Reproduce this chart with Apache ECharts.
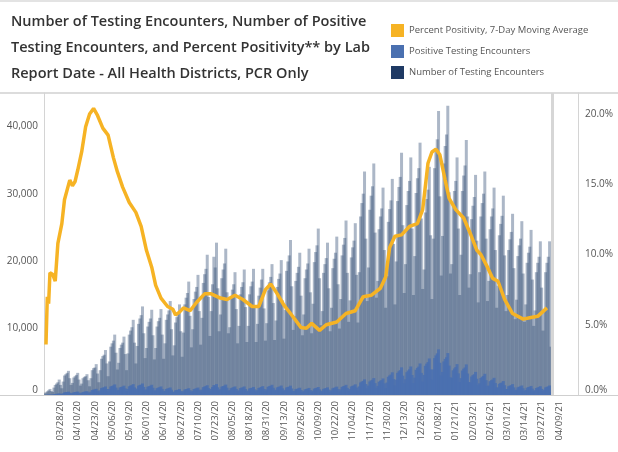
<!DOCTYPE html>
<html>
<head>
<meta charset="utf-8">
<script src="https://cdn.jsdelivr.net/npm/echarts@6/dist/echarts.min.js"></script>
<style>
  html, body { margin: 0; padding: 0; background: #fff; }
  #chart { width: 618px; height: 452px; }
</style>
</head>
<body>
<div id="chart"></div>
<script>
// Daily axis: 03/16/20 .. 04/23/21 (labels every 13 days from 03/28/20)
const startDate = Date.UTC(2020, 2, 16);
const dayCount = 404;
const dates = [];
for (let i = 0; i < dayCount; i++) {
  const d = new Date(startDate + i * 86400000);
  const mm = String(d.getUTCMonth() + 1).padStart(2, '0');
  const dd = String(d.getUTCDate()).padStart(2, '0');
  const yy = String(d.getUTCFullYear()).slice(2);
  dates.push(`${mm}/${dd}/${yy}`);
}

// Number of testing encounters, one row per week (Mon..Sun) from 03/16/20
const testEncounters = [
  250, 400, 550, 700, 900, 600, 450,
  1100, 1500, 1700, 1900, 2300, 1500, 1000,
  2000, 2900, 3100, 3300, 3600, 2500, 1500,
  1800, 2600, 2800, 3000, 3300, 2300, 1400,
  1700, 2500, 2700, 2800, 3100, 2200, 1300,
  2500, 3700, 4000, 4100, 4600, 3200, 1900,
  3700, 5400, 5800, 6000, 6700, 4700, 2800,
  5000, 7200, 7700, 8100, 9000, 6300, 3800,
  4800, 7000, 7500, 7800, 8700, 6100, 3700,
  6200, 9000, 9600, 10100, 11200, 7800, 4700,
  7300, 10600, 11400, 11900, 13200, 9200, 5500,
  7000, 10200, 10900, 11400, 12700, 8900, 5300,
  7000, 10200, 11000, 11500, 12800, 9000, 5400,
  7700, 11200, 12000, 12600, 14000, 9800, 5900,
  7400, 10800, 11600, 12200, 13500, 9500, 5700,
  9300, 13500, 14500, 15200, 16900, 11800, 7100,
  9800, 14300, 15400, 16100, 17900, 12500, 7500,
  11500, 16700, 18000, 18800, 20900, 14600, 8800,
  12500, 16500, 20600, 19000, 22700, 15900, 9500,
  12000, 17400, 18700, 19600, 21800, 15300, 9200,
  10100, 14600, 15700, 16500, 18300, 12800, 7700,
  10300, 15000, 16100, 16800, 18700, 13100, 7900,
  10300, 15000, 16200, 16900, 18800, 13200, 7900,
  10600, 14800, 16000, 17200, 18800, 12900, 8100,
  10700, 15600, 16800, 17600, 19500, 13700, 8200,
  11100, 16100, 17300, 18100, 20100, 14100, 8400,
  12700, 18500, 19900, 20800, 23100, 16200, 9700,
  11700, 17000, 18200, 19100, 21200, 14800, 8900,
  12000, 17400, 18700, 19600, 21800, 15300, 9200,
  13600, 19800, 21300, 22300, 24800, 17400, 10400,
  12500, 18200, 19500, 20400, 22700, 15900, 9500,
  13000, 18900, 20300, 21200, 23600, 16500, 9900,
  14300, 20800, 22400, 23400, 26000, 18200, 10900,
  14100, 20500, 22000, 23000, 25600, 17900, 10800,
  18300, 26600, 28600, 30000, 33300, 23300, 14000,
  19000, 27600, 29700, 31100, 34500, 24200, 14500,
  17000, 24700, 26600, 27800, 30900, 21600, 13000,
  17700, 25800, 27700, 29000, 32200, 22500, 13500,
  19900, 28900, 31000, 32500, 36100, 25300, 15200,
  19500, 28300, 30400, 31900, 35400, 24800, 14900,
  20700, 30100, 32300, 33800, 37600, 26300, 15800,
  18700, 27200, 29200, 30600, 34000, 23800, 14300,
  23300, 33800, 36400, 38100, 42300, 29600, 17800,
  23700, 34500, 37100, 38800, 43100, 30200, 18100,
  19500, 28300, 30400, 31900, 35400, 24800, 14900,
  20900, 30400, 32700, 34200, 38000, 26600, 16000,
  18000, 26200, 28200, 29500, 32800, 23000, 13800,
  18300, 26600, 28600, 30000, 33300, 23300, 14000,
  17000, 24700, 26600, 27800, 30900, 21600, 13000,
  16300, 23800, 25500, 26700, 29700, 20800, 12500,
  14900, 21600, 23200, 24300, 27000, 18900, 11300,
  14200, 20700, 22300, 23300, 25900, 18100, 10900,
  13500, 19700, 21200, 22100, 24600, 17200, 10300,
  12600, 18300, 19700, 20600, 22900, 16000, 9600,
  12600, 18300, 19700, 20600, 22900, 7200
];

// Positive testing encounters, same days
const positiveEncounters = [
  20, 30, 40, 50, 70, 50, 40,
  110, 150, 170, 190, 240, 160, 110,
  260, 380, 410, 440, 490, 340, 200,
  280, 400, 430, 460, 510, 350, 220,
  310, 450, 490, 510, 570, 400, 240,
  500, 740, 800, 820, 920, 640, 380,
  700, 1030, 1100, 1140, 1270, 890, 530,
  880, 1260, 1350, 1420, 1580, 1100, 670,
  770, 1120, 1200, 1250, 1390, 980, 590,
  900, 1300, 1390, 1460, 1620, 1130, 680,
  950, 1380, 1480, 1550, 1720, 1200, 720,
  840, 1220, 1310, 1370, 1520, 1070, 640,
  700, 1020, 1100, 1150, 1280, 900, 540,
  620, 900, 960, 1010, 1120, 780, 470,
  480, 700, 750, 790, 880, 620, 370,
  560, 810, 870, 910, 1010, 710, 430,
  610, 890, 950, 1000, 1110, 780, 470,
  800, 1170, 1260, 1320, 1460, 1020, 620,
  900, 1190, 1480, 1370, 1630, 1140, 680,
  850, 1240, 1330, 1390, 1550, 1090, 650,
  710, 1020, 1100, 1160, 1280, 900, 540,
  700, 1020, 1090, 1140, 1270, 890, 540,
  660, 960, 1040, 1080, 1200, 840, 510,
  720, 1040, 1120, 1200, 1320, 900, 570,
  830, 1220, 1310, 1370, 1520, 1070, 640,
  780, 1130, 1210, 1270, 1410, 990, 590,
  760, 1110, 1190, 1250, 1390, 970, 580,
  600, 870, 930, 970, 1080, 750, 450,
  580, 840, 900, 940, 1050, 730, 440,
  650, 950, 1020, 1070, 1190, 840, 500,
  630, 910, 980, 1020, 1140, 800, 480,
  690, 1000, 1080, 1120, 1250, 870, 520,
  830, 1210, 1300, 1360, 1510, 1060, 630,
  870, 1270, 1360, 1430, 1590, 1110, 670,
  1280, 1860, 2000, 2100, 2330, 1630, 980,
  1390, 2010, 2170, 2270, 2520, 1770, 1060,
  1360, 1980, 2130, 2220, 2470, 1730, 1040,
  1860, 2710, 2910, 3050, 3380, 2360, 1420,
  2270, 3290, 3530, 3710, 4120, 2880, 1730,
  2340, 3400, 3650, 3830, 4250, 2980, 1790,
  2590, 3760, 4040, 4230, 4700, 3290, 1980,
  2990, 4350, 4670, 4900, 5440, 3810, 2290,
  3800, 5500, 5900, 6200, 6800, 4800, 2900,
  3440, 5000, 5380, 5630, 6250, 4380, 2620,
  2540, 3680, 3950, 4150, 4600, 3220, 1940,
  2510, 3650, 3920, 4100, 4560, 3190, 1920,
  1890, 2750, 2960, 3100, 3440, 2420, 1450,
  1740, 2530, 2720, 2850, 3160, 2210, 1330,
  1410, 2050, 2210, 2310, 2560, 1790, 1080,
  1140, 1670, 1790, 1870, 2080, 1460, 880,
  890, 1300, 1390, 1460, 1620, 1130, 680,
  780, 1140, 1230, 1280, 1420, 1000, 600,
  740, 1080, 1170, 1220, 1350, 950, 570,
  720, 1040, 1120, 1170, 1310, 910, 550,
  780, 1130, 1220, 1280, 1420, 450
];

// Percent positivity, 7-day moving average (read at points along the line)
const positivityDates = [
  '03/17/20', '03/18/20', '03/19/20', '03/20/20', '03/22/20', '03/24/20', '03/26/20', '03/29/20',
  '03/31/20', '04/04/20', '04/06/20', '04/08/20', '04/10/20', '04/13/20', '04/16/20', '04/19/20',
  '04/22/20', '04/25/20', '04/29/20', '05/03/20', '05/07/20', '05/10/20', '05/14/20', '05/19/20',
  '05/24/20', '05/28/20', '06/01/20', '06/05/20', '06/08/20', '06/12/20', '06/17/20', '06/21/20',
  '06/23/20', '06/26/20', '06/29/20', '07/04/20', '07/09/20', '07/15/20', '07/20/20', '07/27/20',
  '08/01/20', '08/07/20', '08/13/20', '08/20/20', '08/25/20', '08/30/20', '09/03/20', '09/08/20',
  '09/13/20', '09/18/20', '09/22/20', '09/26/20', '09/30/20', '10/04/20', '10/10/20', '10/15/20',
  '10/23/20', '10/30/20', '11/06/20', '11/12/20', '11/18/20', '11/25/20', '11/29/20', '12/02/20',
  '12/06/20', '12/11/20', '12/17/20', '12/23/20', '12/27/20', '12/31/20', '01/03/21', '01/06/21',
  '01/09/21', '01/13/21', '01/16/21', '01/21/21', '01/27/21', '02/01/21', '02/06/21', '02/09/21',
  '02/14/21', '02/18/21', '02/22/21', '02/27/21', '03/05/21', '03/13/21', '03/18/21', '03/24/21',
  '03/31/21'
];
const positivityValues = [
  3.6, 7.0, 6.5, 8.7, 8.6, 8.1, 10.8, 12.2,
  13.9, 15.3, 14.9, 15.2, 16.0, 17.3, 19.1, 20.0,
  20.4, 19.9, 19.0, 18.5, 16.9, 15.9, 14.8, 13.7,
  13.0, 12.0, 10.3, 9.1, 7.8, 6.9, 6.3, 6.1,
  5.7, 5.9, 6.2, 6.0, 6.6, 7.2, 7.2, 6.9,
  6.8, 7.1, 6.8, 6.3, 6.3, 7.5, 7.9, 7.2,
  6.4, 5.8, 5.3, 4.8, 4.75, 5.1, 4.6, 5.0,
  5.2, 5.8, 6.0, 7.0, 7.1, 7.6, 8.4, 10.5,
  11.3, 11.4, 12.0, 12.2, 13.2, 16.5, 17.3, 17.5,
  17.1, 15.3, 14.0, 13.2, 12.6, 11.5, 10.3, 10.0,
  9.1, 8.3, 8.1, 6.8, 5.8, 5.4, 5.5, 5.6,
  6.2
];

const leftTicks = { max: 45000, step: 10000 };
const rightTicks = { max: 21.5, step: 5 };
const markerDate = '04/04/21';

const COLORS = {
  positivity: '#f6b324',
  positive: '#4a70b0',
  tests: '#1f3a64',
  testsBar: '#2f4b73',
};

const chart = echarts.init(document.getElementById('chart'), null, { renderer: 'canvas' });

const axisLabelBase = { color: '#555', fontSize: 10, fontFamily: 'Open Sans' };

chart.setOption({
  animation: false,
  backgroundColor: '#fff',
  textStyle: { fontFamily: 'Open Sans' },
  title: {
    text: 'Number of Testing Encounters, Number of Positive\nTesting Encounters, and Percent Positivity** by Lab\nReport Date - All Health Districts, PCR Only',
    left: 6,
    top: 4,
    textStyle: {
      color: '#333',
      fontSize: 14.5,
      fontWeight: 600,
      lineHeight: 26,
      fontFamily: 'Open Sans',
    },
  },
  legend: {
    orient: 'vertical',
    left: 386,
    top: 19,
    icon: 'rect',
    itemWidth: 13,
    itemHeight: 13,
    itemGap: 8,
    selectedMode: false,
    textStyle: { color: '#555', fontSize: 9.5, fontFamily: 'Open Sans' },
    data: [
      { name: 'Percent Positivity, 7-Day Moving Average', itemStyle: { color: COLORS.positivity, opacity: 1 } },
      { name: 'Positive Testing Encounters', itemStyle: { color: COLORS.positive, opacity: 1 } },
      { name: 'Number of Testing Encounters', itemStyle: { color: COLORS.tests, opacity: 1 } },
    ],
  },
  grid: { left: 44, right: 40, top: 93, bottom: 57, containLabel: false },
  xAxis: {
    type: 'category',
    data: dates,
    boundaryGap: true,
    axisLine: { show: false },
    axisTick: { show: false },
    splitLine: { show: false },
    axisLabel: {
      ...axisLabelBase,
      fontSize: 9.5,
      rotate: 90,
      margin: 6,
      interval: (i) => i >= 12 && i <= 389 && (i - 12) % 13 === 0,
    },
  },
  yAxis: [
    {
      type: 'value',
      min: 0,
      max: leftTicks.max,
      interval: leftTicks.step,
      axisLine: { show: true, lineStyle: { color: '#d4d4d4', width: 1 } },
      axisTick: { show: false },
      splitLine: { show: false },
      axisLabel: {
        ...axisLabelBase,
        margin: 6,
        showMaxLabel: false,
        verticalAlignMinLabel: 'bottom',
        formatter: (v) => v.toLocaleString('en-US'),
      },
    },
    {
      type: 'value',
      min: 0,
      max: rightTicks.max,
      interval: rightTicks.step,
      position: 'right',
      axisLine: { show: true, lineStyle: { color: '#d4d4d4', width: 1 } },
      axisTick: { show: false },
      splitLine: { show: false },
      axisLabel: {
        ...axisLabelBase,
        margin: 7,
        showMaxLabel: false,
        verticalAlignMinLabel: 'bottom',
        formatter: (v) => v.toFixed(1) + '%',
      },
    },
  ],
  graphic: [
    { type: 'line', silent: true, shape: { x1: 0, y1: 1, x2: 618, y2: 1 }, style: { stroke: '#e3e3e3', lineWidth: 2 } },
    { type: 'line', silent: true, shape: { x1: 0, y1: 93, x2: 618, y2: 93 }, style: { stroke: '#dcdcdc', lineWidth: 2 } },
    { type: 'line', silent: true, shape: { x1: 0, y1: 395.5, x2: 618, y2: 395.5 }, style: { stroke: '#cfcfcf', lineWidth: 1 } },
  ],
  series: [
    {
      name: 'Number of Testing Encounters',
      type: 'bar',
      data: testEncounters,
      barWidth: 3,
      barGap: '-100%',
      z: 2,
      itemStyle: { color: COLORS.testsBar, opacity: 0.4 },
      markLine: {
        silent: true,
        symbol: 'none',
        label: { show: false },
        lineStyle: { color: '#d6d6d6', width: 3, type: 'solid' },
        data: [{ xAxis: markerDate }],
      },
    },
    {
      name: 'Positive Testing Encounters',
      type: 'bar',
      data: positiveEncounters,
      barWidth: 3,
      barGap: '-100%',
      z: 3,
      itemStyle: { color: COLORS.positive, opacity: 0.85 },
    },
    {
      name: 'Percent Positivity, 7-Day Moving Average',
      type: 'line',
      yAxisIndex: 1,
      data: positivityDates.map((d, i) => [d, positivityValues[i]]),
      symbol: 'none',
      z: 5,
      lineStyle: { color: COLORS.positivity, width: 3.5 },
      itemStyle: { color: COLORS.positivity },
    },
  ],
});
</script>
</body>
</html>
